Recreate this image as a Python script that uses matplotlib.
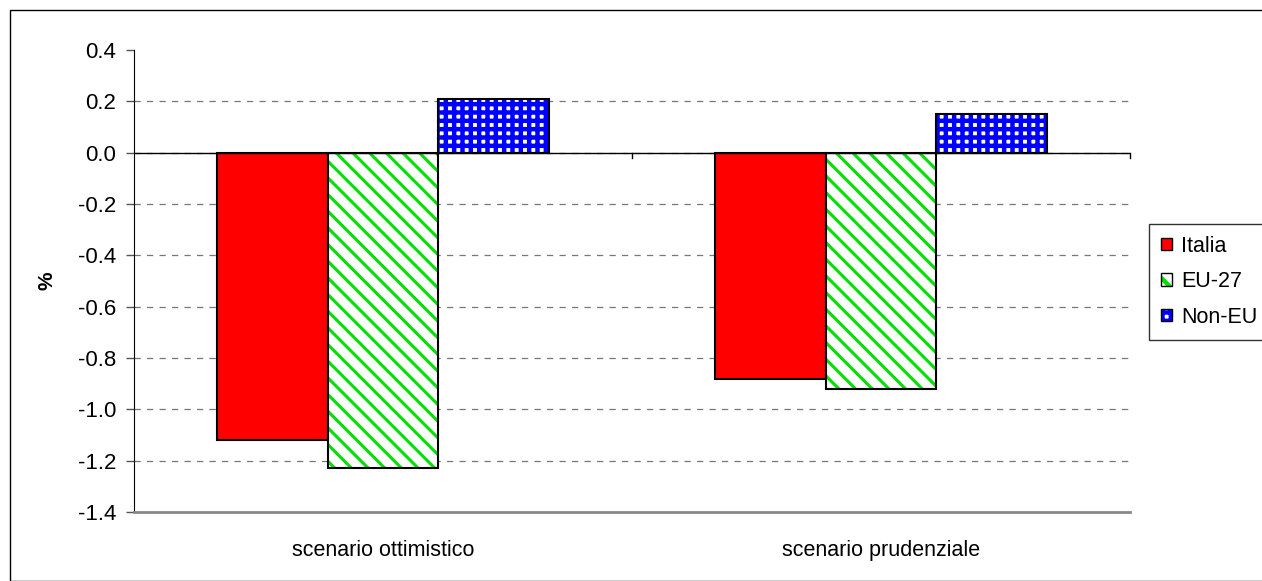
import matplotlib
matplotlib.use("Agg")
import matplotlib.pyplot as plt
from matplotlib.patches import Rectangle, Patch
from matplotlib.legend_handler import HandlerTuple
import numpy as np

categories = ["scenario ottimistico", "scenario prudenziale"]
series_names = ["Italia", "EU-27", "Non-EU"]
italia = [-1.12, -0.88]
eu27 = [-1.23, -0.92]
noneu = [0.21, 0.15]
yticks = [0.4, 0.2, 0.0, -0.2, -0.4, -0.6, -0.8, -1.0, -1.2, -1.4]

plt.rcParams['font.family'] = ['Liberation Sans', 'DejaVu Sans']
fig = plt.figure(figsize=(12.62, 5.81), dpi=100)
W, H = 1262, 581
ax = fig.add_axes([134 / W, 1 - 512 / H, (1130 - 134) / W, (512 - 50) / H])

# outer chart border
fig.patches.append(Rectangle((10 / W, 0), 1.0, 1 - 10 / H, transform=fig.transFigure,
                             fill=False, edgecolor='black', linewidth=1.0))

x = np.arange(len(categories))
bw = 0.2222
styles = [
    dict(face='#ff0000', hatch=None, hcol=None, hlw=1.0),
    dict(face='white', hatch='\\\\', hcol='#00e000', hlw=2.2),
    dict(face='white', hatch='++', hcol='#0000ff', hlw=3.2),
]
data = [italia, eu27, noneu]
legend_handles = []
for i, (vals, st) in enumerate(zip(data, styles)):
    pos = x + (i - 1) * bw
    plt.rcParams['hatch.linewidth'] = st['hlw']
    if st['hatch']:
        ax.bar(pos, vals, bw, color=st['face'], hatch=st['hatch'],
               edgecolor=st['hcol'], linewidth=0, zorder=3)
        ax.bar(pos, vals, bw, fill=False, edgecolor='black', linewidth=1.5, zorder=4)
        legend_handles.append((Patch(facecolor=st['face'], edgecolor=st['hcol'],
                                     hatch=st['hatch'], linewidth=0),
                               Patch(fill=False, edgecolor='black', linewidth=1.0)))
    else:
        ax.bar(pos, vals, bw, color=st['face'], edgecolor='black', linewidth=1.5, zorder=3)
        legend_handles.append(Patch(facecolor=st['face'], edgecolor='black', linewidth=1.0))

ax.set_xlim(-0.5, 1.5)
ax.set_ylim(-1.4, 0.4)
ax.set_yticks(yticks)
ax.set_yticklabels([f"{v:.1f}" for v in yticks], fontsize=16)
for v in yticks[1:-1]:
    ax.axhline(v, color='#777777', linestyle=(0, (5, 5)), linewidth=0.9, zorder=1)
ax.axhline(0, color='black', linewidth=1.0, zorder=5)
for b in [0.5, 1.5]:
    ax.plot([b, b], [0, -0.02], color='black', linewidth=1.0, zorder=5, clip_on=False)

ax.set_xticks(x)
ax.set_xticklabels(categories, fontsize=15.5)
ax.tick_params(axis='x', length=0, pad=20)
ax.tick_params(axis='y', direction='out', length=6, width=1.0, color='#555555', pad=7)
for s in ['top', 'right']:
    ax.spines[s].set_visible(False)
ax.spines['left'].set_color('black')
ax.spines['bottom'].set_color('#888888')
ax.spines['bottom'].set_linewidth(2)
ax.set_ylabel('%', fontsize=15, fontweight='bold', labelpad=15)

leg = fig.legend(legend_handles, series_names, loc='upper left',
                 bbox_to_anchor=(1149 / W, 1 - 224 / H), fontsize=15.5,
                 frameon=True, fancybox=False, edgecolor='black',
                 handler_map={tuple: HandlerTuple(ndivide=1, pad=0)},
                 handlelength=0.5, handleheight=0.5, handletextpad=0.45,
                 labelspacing=0.67, borderpad=0.55, borderaxespad=0)
leg.get_frame().set_linewidth(1.0)

fig.savefig('out.png', dpi=100)
